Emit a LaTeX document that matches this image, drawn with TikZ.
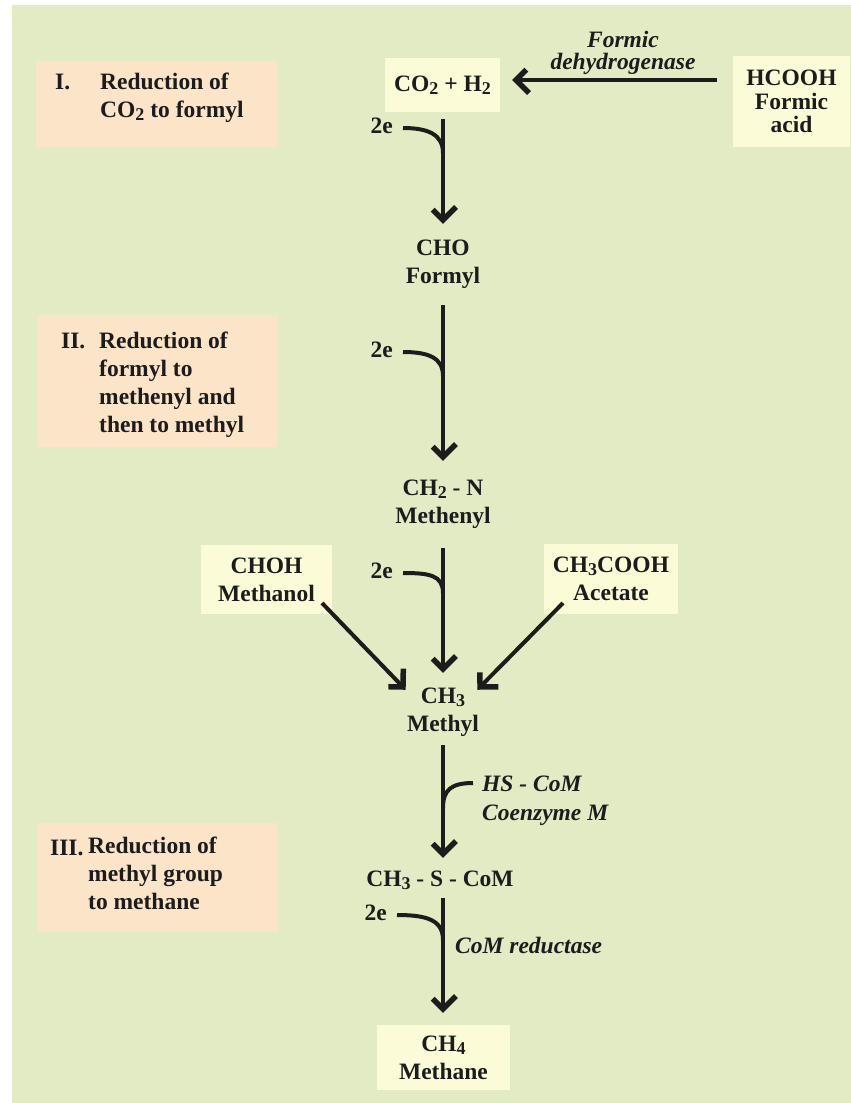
\documentclass[tikz,border=0pt]{standalone}
\usepackage{fontspec}
\setmainfont{Liberation Serif}
\usetikzlibrary{arrows.meta,decorations.markings}
\definecolor{panel}{RGB}{226,235,196}
\definecolor{peach}{RGB}{251,228,199}
\definecolor{pale}{RGB}{252,251,216}
\definecolor{ink}{RGB}{28,28,28}
\newcommand\sbs[1]{\raisebox{-0.3ex}{\fontsize{18}{18}\selectfont #1}}
\begin{document}
\begin{tikzpicture}[x=1pt,y=-1pt,
  txt/.style={font=\fontsize{23.5}{28}\selectfont\bfseries, text=ink, inner sep=0pt, align=center},
  itx/.style={font=\fontsize{23.5}{29}\selectfont\bfseries\itshape, text=ink, inner sep=0pt, align=left},
  stxt/.style={font=\fontsize{23.5}{27.8}\selectfont\bfseries, text=ink, inner sep=0pt, align=left, anchor=base west},
  stage/.style={fill=peach, inner sep=0pt, anchor=north west},
  chem/.style={fill=pale, inner sep=0pt, font=\fontsize{23.5}{28}\selectfont\bfseries, text=ink, align=center},
  arr/.style={draw=ink, line width=4pt, shorten >=3.8pt,
    postaction={decorate, decoration={markings,
      mark=at position 1 with {\draw[ink, line width=5.5pt, miter limit=10] (-13pt,13pt) -- (0pt,0pt) -- (-13pt,-13pt);}}}},
  feed/.style={draw=ink, line width=4pt}]
\useasboundingbox (0,0) rectangle (851,1103);
\fill[white] (0,0) rectangle (851,1103);
\fill[panel] (12,5) rectangle (851,1103);

% stage boxes
\node[stage, minimum width=241pt, minimum height=86pt] (b1) at (36,61) {};
\node[stxt] (n1) at (55,89) {I.};
\node[stxt] (t1) at (100,117) {Reduction of\\CO\sbs{2} to formyl};
\node[stage, minimum width=240pt, minimum height=132pt] (b2) at (37,315) {};
\node[stxt] (n2) at (61,348) {II.};
\node[stxt] (t2) at (99,432) {Reduction of\\formyl to\\methenyl and\\then to methyl};
\node[stage, minimum width=240pt, minimum height=109pt] (b3) at (37,823) {};
\node[stxt] (n3) at (50,855) {III.};
\node[stxt] (t3) at (88,909) {Reduction of\\methyl group\\to methane};

% chemical boxes
\node[chem, minimum width=115pt, minimum height=54pt] (co2) at (442.5,85) {CO\sbs{2} + H\sbs{2}};
\node[chem, minimum width=117pt, minimum height=91pt, font=\fontsize{23.5}{23.5}\selectfont\bfseries] (hc) at (791.5,101.5) {HCOOH\\Formic\\acid};
\node[chem, minimum width=131pt, minimum height=69pt] (meoh) at (266.5,579.5) {CHOH\\Methanol};
\node[chem, minimum width=134pt, minimum height=70pt] (ac) at (611,579) {CH\sbs{3}COOH\\Acetate};
\node[chem, minimum width=133pt, minimum height=65pt] (ch4) at (443.5,1057.5) {CH\sbs{4}\\Methane};

% plain labels
\node[txt, anchor=base] (cho) at (443,283) {CHO\\Formyl};
\node[txt, anchor=base] (ch2n) at (443,523) {CH\sbs{2} - N\\Methenyl};
\node[txt, anchor=base] (ch3) at (443,731) {CH\sbs{3}\\Methyl};
\node[txt, anchor=base] (ch3s) at (440,886) {CH\sbs{3} - S - CoM};
\node[itx, align=center, anchor=base, font=\fontsize{23.5}{22}\selectfont\bfseries\itshape] (fdh) at (623,69) {Formic\\dehydrogenase};
\node[txt, anchor=base east] (e1) at (393,133) {2e};
\node[txt, anchor=base east] (e2) at (393,357) {2e};
\node[txt, anchor=base east] (e3) at (393,578) {2e};
\node[txt, anchor=base east] (e5) at (387,920) {2e};
\node[itx, anchor=base west] (hs) at (482,820) {HS - CoM\\Coenzyme M};
\node[itx, anchor=base west] (red) at (455,953) {CoM reductase};

% coordinates
\coordinate (h0) at (717,80);  \coordinate (h1) at (516,80);
\coordinate (a1s) at (443,119); \coordinate (a1e) at (443,220);
\coordinate (a2s) at (443,305); \coordinate (a2e) at (443,457);
\coordinate (a3s) at (443,548); \coordinate (a3e) at (443,669);
\coordinate (a4s) at (443,745); \coordinate (a4e) at (443,854);
\coordinate (a5s) at (443,898); \coordinate (a5e) at (443,1009);
\coordinate (m0) at (322,603); \coordinate (m1) at (403,687);
\coordinate (c0) at (563,603); \coordinate (c1) at (480,687);
\coordinate (j1) at (443,153); \coordinate (j2) at (443,376);
\coordinate (j3) at (443,593); \coordinate (j4) at (443,808);
\coordinate (j5) at (443,940);

% arrows
\draw[arr] (h0) -- (h1);
\draw[arr] (a1s) -- (a1e);
\draw[arr] (a2s) -- (a2e);
\draw[arr] (a3s) -- (a3e);
\draw[arr] (a4s) -- (a4e);
\draw[arr] (a5s) -- (a5e);
\draw[arr] (m0) -- (m1);
\draw[arr] (c0) -- (c1);

% side feeds
\draw[feed] ([xshift=10pt,yshift=5pt]e1.base east) .. controls +(26pt,0) and (443,135) .. (j1);
\draw[feed] ([xshift=10pt,yshift=5pt]e2.base east) .. controls +(26pt,0) and (443,358) .. (j2);
\draw[feed] ([xshift=10pt,yshift=5pt]e3.base east) .. controls +(26pt,0) and (443,575) .. (j3);
\draw[feed] (473,783) .. controls +(-22pt,0) and (443,790) .. (j4);
\draw[feed] ([xshift=10pt,yshift=5pt]e5.base east) .. controls +(30pt,0) and (443,920) .. (j5);
\end{tikzpicture}
\end{document}
